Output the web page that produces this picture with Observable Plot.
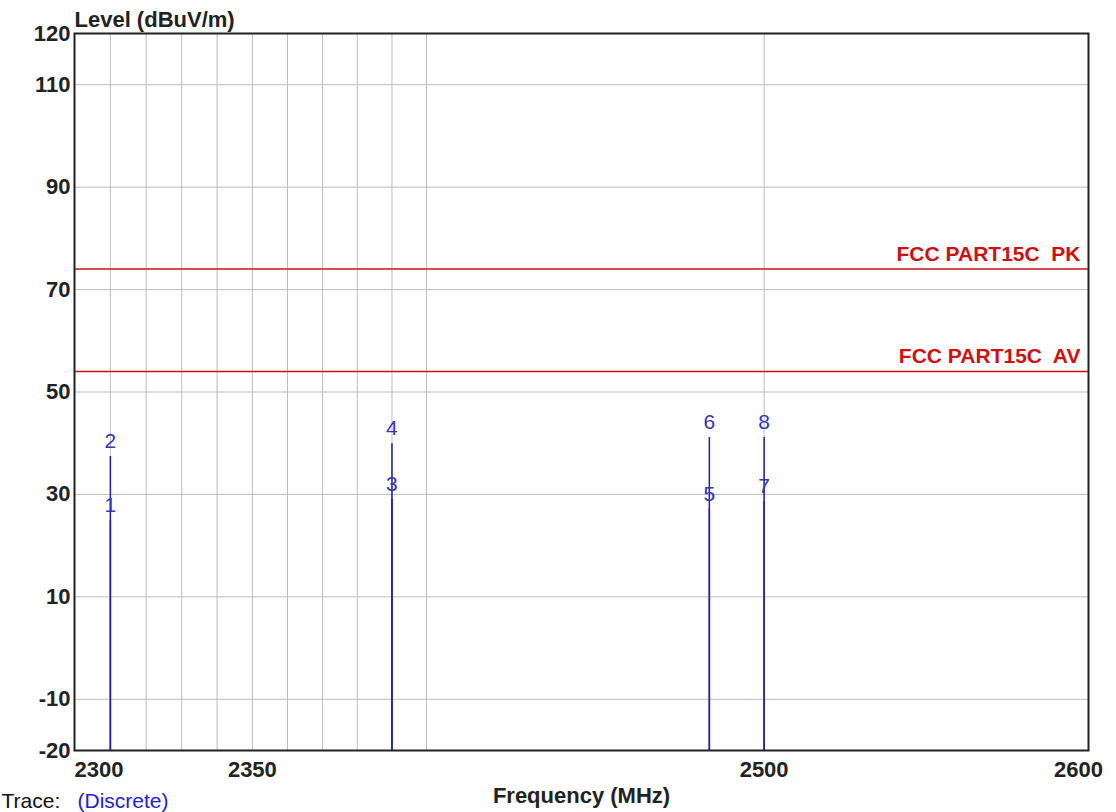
<!DOCTYPE html>
<html>
<head>
<meta charset="utf-8">
<script src="https://cdn.jsdelivr.net/npm/d3@7"></script>
<script src="https://cdn.jsdelivr.net/npm/@observablehq/plot@0.6"></script>
<style>
  html, body { margin: 0; padding: 0; background: #fff; overflow: hidden; }
  svg text { white-space: pre; }
</style>
</head>
<body>
<div id="chart"></div>
<script>
// ---- data ----
const markerIds = ["1", "2", "3", "4", "5", "6", "7", "8"];
const markerFreqs = [2310, 2310, 2390, 2390, 2483.5, 2483.5, 2500, 2500];
const markerLevels = [24.9, 37.4, 29.0, 39.9, 27.2, 41.1, 28.6, 41.1];

const limitNames = ["FCC PART15C  PK", "FCC PART15C  AV"];
const limitLevels = [74, 54];

const xTickLabels = [2300, 2350, 2500, 2600];
const xGrid = [2310, 2320, 2330, 2340, 2350, 2360, 2370, 2380, 2390, 2400, 2500];
const yTicks = [120, 110, 90, 70, 50, 30, 10, -10, -20];
const yGrid = [110, 90, 70, 50, 30, 10, -10];

const markers = markerIds.map((id, i) => ({id, freq: markerFreqs[i], level: markerLevels[i]}));
const limits = limitNames.map((name, i) => ({name, level: limitLevels[i]}));

const font = "'Liberation Sans', Arial, sans-serif";
const blue = "#3535b5";
const red = "#cc1111";
const ink = "#222";
const tickStyle = {frameAnchor: "bottom", lineAnchor: "middle", dy: 19, fontSize: 22, fontWeight: "bold", fill: ink};

const chart = Plot.plot({
  width: 1116,
  height: 812,
  marginTop: 33,
  marginLeft: 74,
  marginRight: 28,
  marginBottom: 62,
  style: {fontFamily: font, background: "#fff", overflow: "visible"},
  x: {type: "log", domain: [2300, 2600], axis: null},
  y: {domain: [-20, 120], axis: null},
  marks: [
    Plot.ruleX(xGrid, {x: d => d, stroke: "#bdbdbd", strokeWidth: 1}),
    Plot.ruleY(yGrid, {y: d => d, stroke: "#bdbdbd", strokeWidth: 1}),
    Plot.ruleY(limits, {y: "level", stroke: red, strokeWidth: 1.5}),
    Plot.text(limits, {y: "level", text: "name", frameAnchor: "right", textAnchor: "end",
      lineAnchor: "middle", dx: -8, dy: -15, fill: red, fontSize: 21, fontWeight: "bold"}),
    Plot.ruleX(markers, {x: "freq", y1: -20, y2: "level", stroke: "#22229a", strokeWidth: 1.5}),
    Plot.text(markers, {x: "freq", y: "level", text: "id", dy: -15, fill: blue, fontSize: 21}),
    Plot.frame({stroke: ink, strokeWidth: 2}),
    // y axis
    Plot.axisY(yTicks, {tickSize: 0, tickPadding: 4, fontSize: 22, fontWeight: "bold", fill: ink,
      label: null, tickFormat: d => String(d)}),
    // x tick labels
    Plot.text(xTickLabels.filter(d => d === xTickLabels[0]), {x: d => d, text: d => String(d),
      textAnchor: "start", ...tickStyle}),
    Plot.text(xTickLabels.slice(1, -1), {x: d => d, text: d => String(d), ...tickStyle}),
    Plot.text(xTickLabels.slice(-1), {x: d => d, text: d => String(d), dx: -10, ...tickStyle}),
    // axis titles
    Plot.text(["Level (dBuV/m)"], {frameAnchor: "top-left", textAnchor: "start", lineAnchor: "middle",
      dy: -14, fontSize: 22, fontWeight: "bold", fill: ink}),
    Plot.text(["Frequency (MHz)"], {frameAnchor: "bottom", lineAnchor: "middle", dy: 45,
      fontSize: 22, fontWeight: "bold", fill: ink}),
    Plot.text(["Trace:"], {frameAnchor: "bottom-left", textAnchor: "start", lineAnchor: "middle",
      dx: -73, dy: 51, fontSize: 21, fill: "#111"}),
    Plot.text(["(Discrete)"], {frameAnchor: "bottom-left", textAnchor: "start", lineAnchor: "middle",
      dx: 3, dy: 51, fontSize: 21, fill: "#2222cc"})
  ]
});
document.getElementById("chart").appendChild(chart);
</script>
</body>
</html>
